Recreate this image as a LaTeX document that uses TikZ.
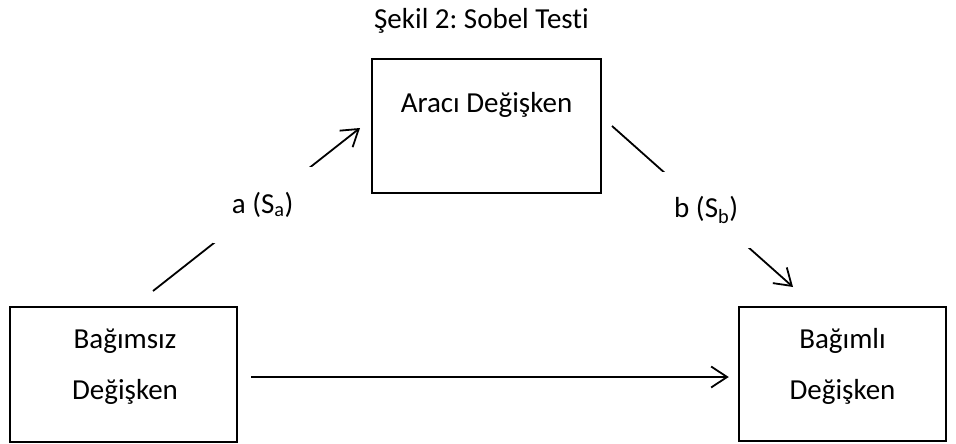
\documentclass[tikz,border=0pt]{standalone}
\usepackage{fontspec}
\setmainfont{Carlito}[RawFeature={-liga}]
\frenchspacing
\usetikzlibrary{arrows.meta}
\begin{document}
\begin{tikzpicture}[x=1pt,y=-1pt,
  box/.style={draw=black, line width=2.5pt, inner sep=0pt},
  txt/.style={anchor=base, inner sep=0pt, font=\fontsize{29}{35}\selectfont},
  arr/.style={line width=1.8pt, -{Straight Barb[length=16pt,width=21pt]}},
  lbl/.style={fill=white, inner sep=0pt, minimum width=100pt, minimum height=76pt, font=\fontsize{29}{35}\selectfont}]
\useasboundingbox (0,0) rectangle (956,444);
% title
\node[txt] (title) at (481.5,29) {Şekil 2: Sobel Testi};
% boxes
\node[box, minimum width=229pt, minimum height=134pt] (M) at (486.5,126) {};
\node[box, minimum width=227pt, minimum height=135pt] (L) at (123.5,374.5) {};
\node[box, minimum width=207pt, minimum height=134pt] (R) at (842.5,374) {};
% box texts
\node[txt] (Mt) at (486.5,113) {Aracı Değişken};
\node[txt] (Lt1) at (125,348) {Bağımsız};
\node[txt] (Lt2) at (125,399) {Değişken};
\node[txt] (Rt1) at (842.5,348) {Bağımlı};
\node[txt] (Rt2) at (842.5,399) {Değişken};
% connector end points
\coordinate (a1) at (153,291);
\coordinate (a2) at (360,128);
\coordinate (b1) at (612,126);
\coordinate (b2) at (793,287);
% connectors
\draw[arr] (a1) -- node[lbl, pos=0.53] (la) {a (S\textsubscript{a})} (a2);
\draw[arr] (b1) -- node[lbl, pos=0.52] (lb) {b (S\textsubscript{b})} (b2);
\draw[arr, shorten <=13pt, shorten >=9pt] ([yshift=-2.5pt]L.east) -- ([yshift=-3pt]R.west);
\end{tikzpicture}
\end{document}
